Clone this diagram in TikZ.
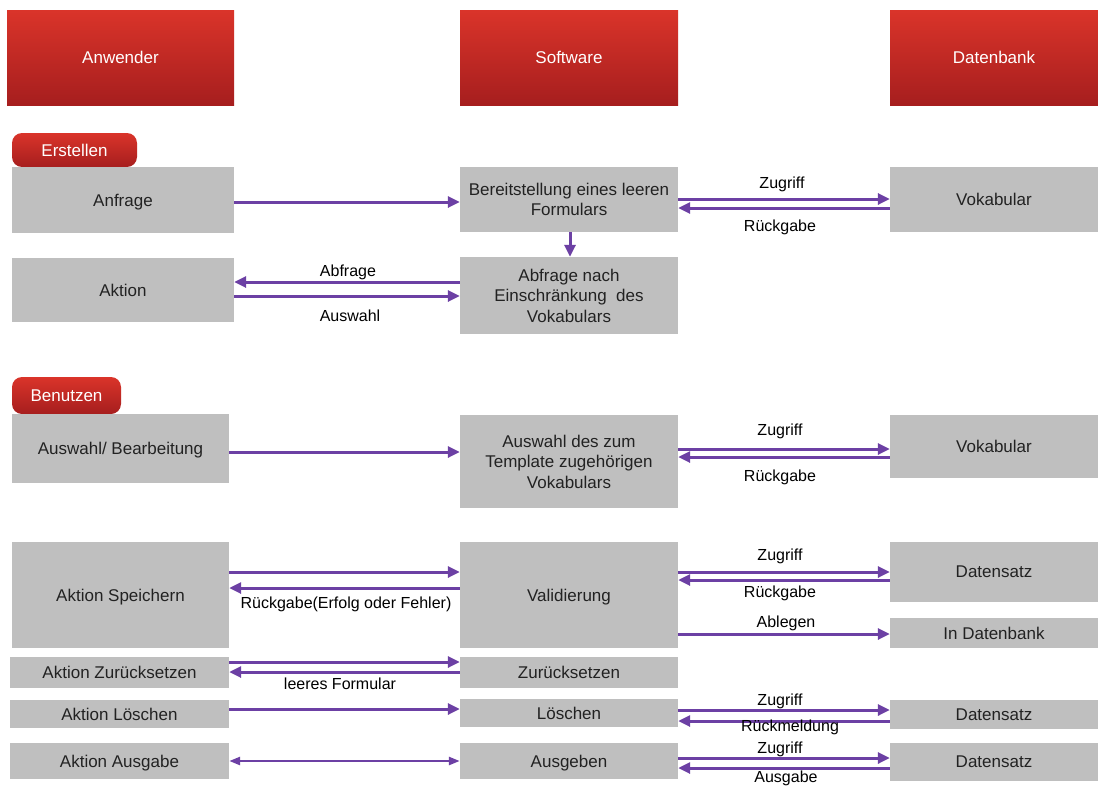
\documentclass[tikz,border=0pt]{standalone}
\usepackage{fontspec}
\setmainfont{Liberation Sans}
\usetikzlibrary{arrows.meta}
\definecolor{boxgray}{RGB}{191,191,191}
\definecolor{arrowpurple}{RGB}{108,64,164}
\definecolor{redtop}{RGB}{218,52,42}
\definecolor{redbot}{RGB}{166,30,30}
\definecolor{txt}{RGB}{34,34,34}
\begin{document}
\begin{tikzpicture}[x=1pt,y=-1pt,
  wh/.style 2 args={minimum width=#1pt, minimum height=#2pt},
  box/.style={fill=boxgray, inner sep=0pt, align=center, text=txt, text depth=0pt, font=\fontsize{17}{20.5}\selectfont},
  head/.style={top color=redtop, bottom color=redbot, inner sep=0pt, text=white, font=\fontsize{17}{20}\selectfont},
  pill/.style={top color=redtop, bottom color=redbot, rounded corners=10pt, inner sep=0pt, text=white, font=\fontsize{17}{20}\selectfont},
  flow/.style={draw=arrowpurple, line width=3pt, -{Triangle[length=12pt,width=11pt]}},
  both/.style={draw=arrowpurple, line width=2.5pt, {Triangle[length=11pt,width=8pt]}-{Triangle[length=11pt,width=8pt]}},
  lab/.style={font=\fontsize{16}{18}\selectfont, text=black, inner sep=0pt}]
\useasboundingbox[fill=white] (0,0) rectangle (1098,787);

% headers
\node[head, wh={227}{95}] (hA) at (120.5,57.5) {Anwender};
\node[head, wh={218}{95}] (hS) at (569,57.5) {Software};
\node[head, wh={208}{95}] (hD) at (994,57.5) {Datenbank};

% Erstellen
\node[pill, wh={125}{34}] (pE) at (74.5,150) {Erstellen};
\node[box, wh={222}{66}] (Anfrage) at (123,200) {Anfrage};
\node[box, wh={218}{65}] (Bereit) at (569,199.5) {Bereitstellung eines leeren\\Formulars};
\node[box, wh={208}{65}] (Vok1) at (994,199.5) {Vokabular};
\node[box, wh={222}{64}] (Aktion) at (123,290) {Aktion};
\node[box, wh={218}{77}] (AbfrageN) at (569,295.5) {Abfrage nach\\Einschränkung~ des\\Vokabulars};

\draw[flow] (Anfrage.east |- 0,202) -- (Bereit.west |- 0,202);
\draw[flow] (Bereit.east |- 0,199) -- (Vok1.west |- 0,199);
\draw[flow] (Vok1.west |- 0,208) -- (Bereit.east |- 0,208);
\draw[flow] (Bereit.south -| 570,0) -- (AbfrageN.north -| 570,0);
\draw[flow] (AbfrageN.west |- 0,282) -- (Aktion.east |- 0,282);
\draw[flow] (Aktion.east |- 0,296) -- (AbfrageN.west |- 0,296);
\node[lab] (lz1) at (782,184) {Zugriff};
\node[lab] (lr1) at (780,227) {Rückgabe};
\node[lab] (lab1) at (348,272) {Abfrage};
\node[lab] (law1) at (350,316) {Auswahl};

% Benutzen
\node[pill, wh={109}{37}] (pB) at (66.5,395.5) {Benutzen};
\node[box, wh={217}{69}] (AuswB) at (120.5,448.5) {Auswahl/ Bearbeitung};
\node[box, wh={218}{93}] (AuswZ) at (569,461.5) {Auswahl des zum\\Template zugehörigen\\Vokabulars};
\node[box, wh={208}{63}] (Vok2) at (994,446.5) {Vokabular};
\draw[flow] (AuswB.east |- 0,452) -- (AuswZ.west |- 0,452);
\draw[flow] (AuswZ.east |- 0,449) -- (Vok2.west |- 0,449);
\draw[flow] (Vok2.west |- 0,457) -- (AuswZ.east |- 0,457);
\node[lab] (lz2) at (780,431) {Zugriff};
\node[lab] (lr2) at (780,477) {Rückgabe};

% Speichern
\node[box, wh={217}{106}] (Speich) at (120.5,595) {Aktion Speichern};
\node[box, wh={218}{106}] (Valid) at (569,595) {Validierung};
\node[box, wh={208}{60}] (DS1) at (994,572) {Datensatz};
\node[box, wh={208}{30}] (InDB) at (994,633) {In Datenbank};
\draw[flow] (Speich.east |- 0,572) -- (Valid.west |- 0,572);
\draw[flow] (Valid.west |- 0,588) -- (Speich.east |- 0,588);
\draw[flow] (Valid.east |- 0,572) -- (DS1.west |- 0,572);
\draw[flow] (DS1.west |- 0,580) -- (Valid.east |- 0,580);
\draw[flow] (Valid.east |- 0,634) -- (InDB.west |- 0,634);
\node[lab] (lref) at (346,604) {Rückgabe(Erfolg oder Fehler)};
\node[lab] (lz3) at (780,556) {Zugriff};
\node[lab] (lr3) at (780,593) {Rückgabe};
\node[lab] (lab3) at (786,623) {Ablegen};

% Zuruecksetzen
\node[box, wh={219}{31}] (AZur) at (119.5,672.5) {Aktion Zurücksetzen};
\node[box, wh={218}{31}] (Zur) at (569,672.5) {Zurücksetzen};
\draw[flow] (AZur.east |- 0,662) -- (Zur.west |- 0,662);
\draw[flow] (Zur.west |- 0,672) -- (AZur.east |- 0,672);
\node[lab] (llf) at (340,684) {leeres Formular};

% Loeschen
\node[box, wh={219}{28}] (ALoe) at (119.5,714) {Aktion Löschen};
\node[box, wh={218}{28}] (Loe) at (569,713) {Löschen};
\node[box, wh={208}{29}] (DS2) at (994,714.5) {Datensatz};
\draw[flow] (ALoe.east |- 0,709) -- (Loe.west |- 0,709);
\draw[flow] (Loe.east |- 0,710) -- (DS2.west |- 0,710);
\draw[flow] (DS2.west |- 0,721) -- (Loe.east |- 0,721);
\node[lab] (lz4) at (780,701) {Zugriff};
\node[lab] (lrm) at (790,727) {Rückmeldung};

% Ausgabe
\node[box, wh={219}{36}] (AAus) at (119.5,761) {Aktion Ausgabe};
\node[box, wh={218}{36}] (Ausg) at (569,761) {Ausgeben};
\node[box, wh={208}{38}] (DS3) at (994,762) {Datensatz};
\draw[both] (AAus.east |- 0,761) -- (Ausg.west |- 0,761);
\draw[flow] (Ausg.east |- 0,758) -- (DS3.west |- 0,758);
\draw[flow] (DS3.west |- 0,768) -- (Ausg.east |- 0,768);
\node[lab] (lz5) at (780,749) {Zugriff};
\node[lab] (lag) at (786,778) {Ausgabe};
\end{tikzpicture}
\end{document}
